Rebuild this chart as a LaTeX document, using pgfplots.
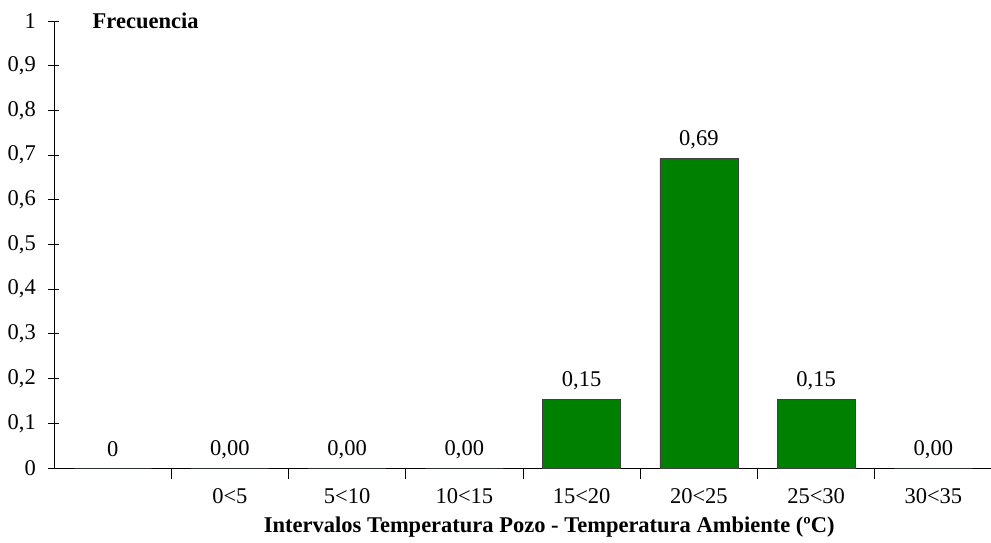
\documentclass[border=0pt]{standalone}
\usepackage{fontspec}
\setmainfont{Liberation Serif}
\usepackage{pgfplots}
\usepackage{pgfplotstable}
\pgfplotsset{compat=1.18}
\definecolor{bargreen}{HTML}{008000}
\definecolor{baredge}{HTML}{404040}
\pgfplotstableread{
x y lab
0 0 0
1 0 0,00
2 0 0,00
3 0 0,00
4 0.1538 0,15
5 0.6923 0,69
6 0.1538 0,15
7 0 0,00
}\freqdata
\begin{document}
\fontsize{22.5bp}{26bp}\selectfont
\begin{tikzpicture}
\begin{axis}[
  at={(0,0)}, anchor=south west,
  scale only axis, width=938bp, height=447bp,
  xmin=-0.5, xmax=7.5, ymin=0, ymax=1,
  axis lines=left,
  axis line style={-, black, line width=0.8bp},
  tick style={black, line width=0.8bp},
  tick align=center,
  major tick length=11bp,
  minor tick length=11bp,
  ytick={0,0.1,...,1.01},
  yticklabels={0,{0,1},{0,2},{0,3},{0,4},{0,5},{0,6},{0,7},{0,8},{0,9},1},
  xtick={0,...,7},
  xticklabels={,0<5,5<10,10<15,15<20,20<25,25<30,30<35},
  major x tick style={draw=none},
  minor xtick={0.5,1.5,...,6.5},
  ticklabel style={font=\fontsize{22.5bp}{26bp}\selectfont},
  xticklabel style={yshift=-2bp},
  yticklabel style={xshift=-5bp},
  xlabel={\textbf{Intervalos Temperatura Pozo - Temperatura Ambiente (ºC)}},
  xlabel style={at={(axis description cs:0.528,-0.133)}, anchor=center, font=\fontsize{22.5bp}{26bp}\selectfont},
  ybar, bar width=78bp,
  nodes near coords,
  point meta=explicit symbolic,
  nodes near coords align=center,
  every node near coord/.append style={anchor=center, yshift=18.5bp, font=\fontsize{22.5bp}{26bp}\selectfont, black},
  clip=false,
]
\addplot[fill=bargreen, draw=baredge, line width=0.6bp] table[x=x, y=y, meta=lab] {\freqdata};
\node[anchor=west, font=\fontsize{22.5bp}{26bp}\selectfont\bfseries, xshift=31bp] at (rel axis cs:0,1) {Frecuencia};
\end{axis}
\pgfresetboundingbox
\path[use as bounding box] (-54bp,-75bp) rectangle (937bp,468bp);
\end{tikzpicture}
\end{document}
